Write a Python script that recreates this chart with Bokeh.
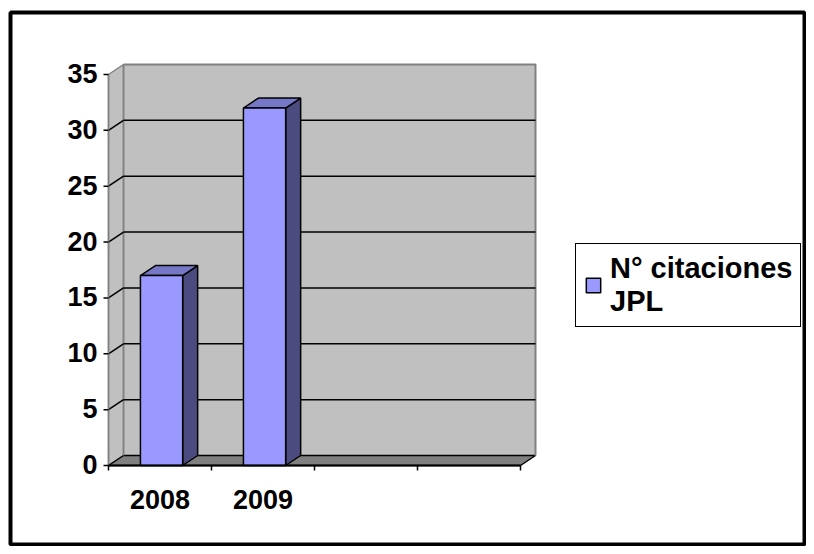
from bokeh.plotting import figure
from bokeh.models import Range1d, Legend, LegendItem, ColumnDataSource
from bokeh.core.properties import value
from bokeh.embed import file_html
from bokeh.resources import INLINE

# ---- data ----
categories = ["2008", "2009", "", ""]
values = [17, 32]
series_name = "N° citaciones\nJPL"
y_ticks = [0, 5, 10, 15, 20, 25, 30, 35]
y_tick_labels = ["0", "5", "10", "15", "20", "25", "30", "35"]

# ---- geometry ----
W, H = 806, 546
AX_X = 108                  # canvas x of the front value axis
AX_Y = 465                  # canvas y of value 0
CAT_PX = 103.0              # width of one category in px
PPU = 391.0 / 35.0          # px per value unit
DX = 15.0 / CAT_PX          # depth offset (category units)
DY = 10.0 / PPU             # depth offset (value units)
YMAX = y_ticks[-1]
NCAT = len(categories)
BAR_W = 0.41
BAR_OFF = 0.515
TICK = 5.0

def px_x(px):
    return (px - AX_X) / CAT_PX

def px_y(py):
    return (AX_Y - py) / PPU

p = figure(width=W, height=H, output_backend="svg", toolbar_location=None,
           x_range=Range1d(px_x(0), px_x(W)), y_range=Range1d(px_y(H), px_y(0)),
           x_axis_type=None, y_axis_type=None, min_border=0)
p.min_border_left = p.min_border_right = p.min_border_top = p.min_border_bottom = 0
p.outline_line_color = None
p.xgrid.visible = False
p.ygrid.visible = False
p.background_fill_color = "white"
p.border_fill_color = "white"

GRAY = "#C0C0C0"
DGRAY = "#808080"
FONT = "Liberation Sans"

# outer chart border
p.quad(left=[px_x(10)], right=[px_x(W - 2)], top=[px_y(12)], bottom=[px_y(H - 2)],
       fill_color=None, line_color="black", line_width=4)

# back wall
p.quad(left=[DX], right=[NCAT + DX], bottom=[DY], top=[YMAX + DY],
       fill_color=GRAY, line_color=None)
# side wall
p.patch([0, DX, DX, 0], [0, DY, YMAX + DY, YMAX], fill_color=GRAY,
        line_color=DGRAY, line_width=1.5)
# floor
p.patch([0, NCAT, NCAT + DX, DX], [0, 0, DY, DY], fill_color=DGRAY,
        line_color="black", line_width=1.5)

# wall edges
p.line([DX, NCAT + DX, NCAT + DX], [YMAX + DY, YMAX + DY, DY],
       line_color=DGRAY, line_width=2)
p.line([DX, DX], [DY, YMAX + DY], line_color=DGRAY, line_width=1.5)

# gridlines on back and side wall
inner = [t for t in y_ticks if 0 < t < YMAX]
p.segment(x0=[DX] * len(inner), y0=[t + DY for t in inner],
          x1=[NCAT + DX] * len(inner), y1=[t + DY for t in inner],
          line_color="black", line_width=1.5)
p.segment(x0=[0] * len(inner), y0=inner,
          x1=[DX] * len(inner), y1=[t + DY for t in inner],
          line_color="black", line_width=1.5)

# bars
lefts = [i + BAR_OFF - BAR_W / 2 for i in range(len(values))]
rights = [l + BAR_W for l in lefts]
src = ColumnDataSource(dict(left=lefts, right=rights, top=values,
                            bottom=[0] * len(values)))
tops_x = [[l, r, r + DX, l + DX] for l, r in zip(lefts, rights)]
tops_y = [[v, v, v + DY, v + DY] for v in values]
sides_x = [[r, r + DX, r + DX, r] for r in rights]
sides_y = [[0, DY, v + DY, v] for v in values]
p.patches(sides_x, sides_y, fill_color="#4B4B80", line_color="black", line_width=1.5)
p.patches(tops_x, tops_y, fill_color="#7777C8", line_color="black", line_width=1.5)
bars = p.quad(left="left", right="right", top="top", bottom="bottom", source=src,
              fill_color="#9999FF", line_color="black", line_width=1.5)

# value axis (front edge), ticks and labels
p.line([0, 0], [0, YMAX], line_color=DGRAY, line_width=1.5)
p.segment(x0=[-TICK / CAT_PX] * len(y_ticks), y0=y_ticks,
          x1=[0] * len(y_ticks), y1=y_ticks, line_color="black", line_width=1.5)
p.text(x=[0] * len(y_ticks), y=y_ticks, text=y_tick_labels,
       x_offset=-11, y_offset=-1, text_align="right", text_baseline="alphabetic",
       text_font=value(FONT), text_font_style="bold", text_font_size="27px",
       text_color="black")

# category axis, ticks and labels
bounds = list(range(NCAT + 1))
p.line([0, NCAT], [0, 0], line_color="black", line_width=2)
p.segment(x0=bounds, y0=[0] * len(bounds), x1=bounds,
          y1=[-TICK / PPU] * len(bounds), line_color="black", line_width=1.5)
p.text(x=[i + 0.5 for i in range(NCAT)], y=[0] * NCAT, text=categories,
       y_offset=34, text_align="center", text_baseline="alphabetic",
       text_font=value(FONT), text_font_style="bold", text_font_size="27px",
       text_color="black")

legend = Legend(items=[LegendItem(label=series_name, renderers=[bars])],
                location=(575, H - 327))
legend.border_line_color = "black"
legend.border_line_width = 1.5
legend.border_line_alpha = 1
legend.background_fill_color = "white"
legend.background_fill_alpha = 1
legend.label_text_font = FONT
legend.label_text_font_style = "bold"
legend.label_text_font_size = "29px"
legend.label_text_color = "black"
legend.label_text_line_height = 1.2
legend.glyph_width = 18
legend.glyph_height = 18
legend.label_standoff = 8
legend.padding = 8
legend.margin = 0
p.add_layout(legend, "center")

open("out.html", "w").write(file_html(p, INLINE))
